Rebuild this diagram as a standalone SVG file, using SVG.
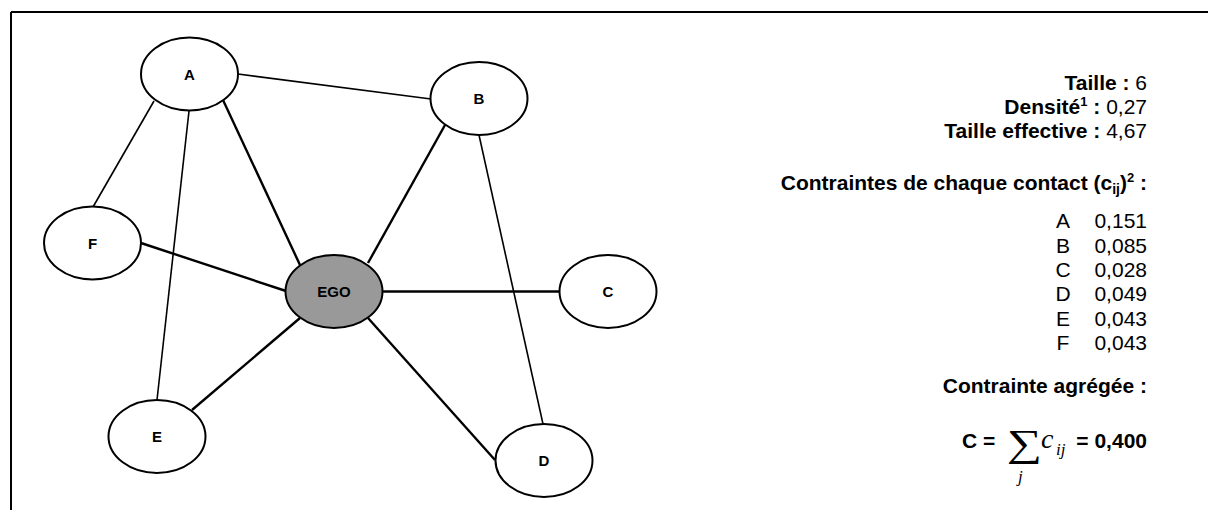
<svg xmlns="http://www.w3.org/2000/svg" width="1208" height="510" viewBox="0 0 1208 510">
<style>
.node ellipse{fill:#ffffff;stroke:#000;stroke-width:2}
#ego ellipse{fill:#999999}
.node text{font-family:"Liberation Sans",Arial,sans-serif;font-weight:bold;font-size:15px;text-anchor:middle;fill:#000}
.edge{stroke:#000;stroke-width:1.6;fill:none}
.edge.ego{stroke-width:2.4}
.t{font-family:"Liberation Sans",Arial,sans-serif;font-size:21px;fill:#000}
.r{text-anchor:end}
.m{text-anchor:middle}
.b{font-weight:bold}
.math{font-family:"Liberation Serif","Times New Roman",serif;font-style:italic;fill:#000}
</style>
<rect width="1208" height="510" fill="#ffffff"/>
<g id="frame" stroke="#000" stroke-width="2" fill="none">
<path d="M11 12 H1208 M11 12 V510"/>
</g>
<g id="connectors">
<line class="edge" x1="238" y1="74" x2="431" y2="99"/>
<line class="edge" x1="154" y1="101" x2="93" y2="207"/>
<line class="edge" x1="189" y1="111" x2="157" y2="400"/>
<line class="edge ego" x1="223" y1="100" x2="300" y2="265"/>
<line class="edge ego" x1="445" y1="125" x2="368" y2="263"/>
<line class="edge" x1="479" y1="135" x2="543" y2="424"/>
<line class="edge ego" x1="141" y1="243" x2="286" y2="291"/>
<line class="edge ego" x1="383" y1="291.5" x2="559" y2="291.5"/>
<line class="edge ego" x1="300" y1="318" x2="192" y2="410"/>
<line class="edge ego" x1="368" y1="318" x2="495" y2="460"/>
</g>
<g id="nodeA" class="node"><ellipse cx="189.5" cy="74" rx="48.5" ry="36.5"/><text x="189.5" y="79.5">A</text></g>
<g id="nodeB" class="node"><ellipse cx="479" cy="98.5" rx="48.5" ry="36.5"/><text x="479" y="104">B</text></g>
<g id="ego" class="node"><ellipse cx="334" cy="291.5" rx="48.5" ry="36.5"/><text x="334" y="297">EGO</text></g>
<g id="nodeC" class="node"><ellipse cx="608" cy="291.5" rx="48.5" ry="36.5"/><text x="608" y="297">C</text></g>
<g id="nodeD" class="node"><ellipse cx="544" cy="460.5" rx="48.5" ry="36.5"/><text x="544" y="466">D</text></g>
<g id="nodeE" class="node"><ellipse cx="157" cy="436.5" rx="48.5" ry="36.5"/><text x="157" y="442">E</text></g>
<g id="nodeF" class="node"><ellipse cx="92.5" cy="243" rx="48.5" ry="36.5"/><text x="92.5" y="248.5">F</text></g>
<g id="stats">
<text class="t r" x="1147" y="90"><tspan class="b">Taille : </tspan>6</text>
<text class="t r" x="1147" y="114"><tspan class="b">Densité</tspan><tspan class="b" font-size="13" dy="-8">1</tspan><tspan class="b" dy="8"> : </tspan>0,27</text>
<text class="t r" x="1147" y="138"><tspan class="b">Taille effective : </tspan>4,67</text>
<text class="t r b" x="1147" y="190">Contraintes de chaque contact (c<tspan font-size="14" dy="4">ij</tspan><tspan dy="-4">)</tspan><tspan font-size="13" dy="-8">2</tspan><tspan dy="8"> :</tspan></text>
</g>
<g id="contacts">
<text class="t m" x="1063" y="228">A</text><text class="t r" x="1147" y="228">0,151</text>
<text class="t m" x="1063" y="252.5">B</text><text class="t r" x="1147" y="252.5">0,085</text>
<text class="t m" x="1063" y="277">C</text><text class="t r" x="1147" y="277">0,028</text>
<text class="t m" x="1063" y="301">D</text><text class="t r" x="1147" y="301">0,049</text>
<text class="t m" x="1063" y="325.5">E</text><text class="t r" x="1147" y="325.5">0,043</text>
<text class="t m" x="1063" y="350">F</text><text class="t r" x="1147" y="350">0,043</text>
</g>
<g id="aggregate">
<text class="t r b" x="1147" y="393">Contrainte agrégée :</text>
<text class="t b" x="962" y="448">C =</text>
<text transform="translate(1007 456) scale(1.3 1)" font-family="'Liberation Serif','DejaVu Serif',serif" font-size="38" fill="#000">∑</text>
<text class="math" x="1041" y="448" font-size="28">c</text>
<text class="math" x="1056" y="455" font-size="17">ij</text>
<text class="math" x="1018" y="482" font-size="17">j</text>
<text class="t r b" x="1147" y="448">= 0,400</text>
</g>
</svg>
